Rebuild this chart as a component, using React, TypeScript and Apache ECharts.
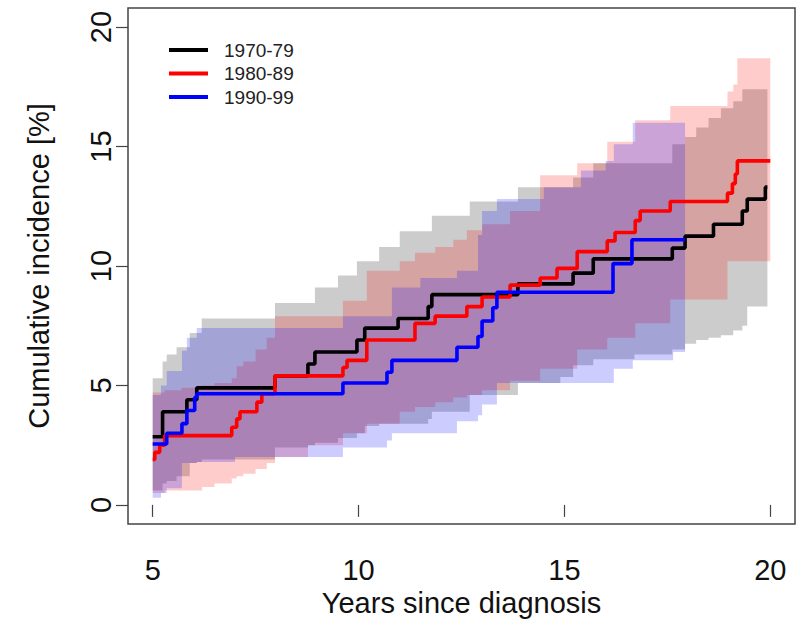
import React, { useEffect, useRef } from "react";
import * as echarts from "echarts";

// ---- Estimates (step functions) ----
const blackX = [5.0, 5.24, 5.83, 6.07, 7.97, 8.77, 8.94, 9.96, 10.15, 10.96, 11.69, 11.78, 13.87, 15.21, 15.7, 17.62, 17.93, 18.62, 19.32, 19.44, 19.88, 19.93];
const blackY = [2.85, 3.9, 4.4, 4.9, 5.4, 5.9, 6.4, 6.9, 7.4, 7.8, 8.3, 8.8, 9.25, 9.7, 10.3, 10.75, 11.25, 11.75, 12.3, 12.8, 13.3, 13.3];

const redX = [5.0, 5.05, 5.17, 5.29, 6.92, 7.04, 7.12, 7.53, 7.65, 7.97, 9.62, 9.72, 10.2, 11.37, 11.86, 12.63, 13.0, 13.68, 14.41, 14.82, 15.31, 16.04, 16.23, 16.72, 16.84, 17.57, 18.96, 19.08, 19.15, 19.2, 20.0];
const redY = [1.9, 2.2, 2.5, 2.9, 3.25, 3.6, 3.9, 4.3, 4.65, 5.4, 5.75, 6.05, 6.9, 7.6, 7.9, 8.3, 8.7, 9.2, 9.5, 9.9, 10.6, 11.05, 11.4, 11.9, 12.3, 12.7, 13.05, 13.45, 13.85, 14.4, 14.4];

const blueX = [5.0, 5.34, 5.71, 5.83, 6.02, 6.07, 9.62, 10.69, 10.81, 12.39, 12.9, 13.0, 13.26, 13.36, 16.18, 16.64, 17.93];
const blueY = [2.55, 3.0, 3.4, 3.95, 4.5, 4.65, 5.1, 5.55, 6.05, 6.6, 7.05, 7.7, 8.25, 8.9, 10.1, 11.1, 11.1];

// ---- Confidence bands (step functions) ----
const grayBandX = [5.0, 5.24, 5.34, 5.58, 5.9, 6.07, 6.19, 7.97, 8.77, 8.94, 9.5, 9.96, 10.15, 10.5, 11.0, 11.69, 11.78, 12.7, 13.87, 14.9, 15.21, 15.7, 16.7, 17.62, 17.93, 18.2, 18.5, 18.8, 19.1, 19.32, 19.44, 19.93];
const grayBandHi = [5.3, 6.0, 6.3, 6.6, 7.2, 7.2, 7.8, 8.45, 8.45, 9.1, 9.6, 10.2, 10.2, 10.8, 11.45, 11.45, 12.1, 12.7, 13.3, 13.3, 13.7, 14.3, 14.3, 15.1, 15.4, 15.8, 16.2, 16.6, 16.9, 17.4, 17.4, 17.4];
const grayBandLo = [0.6, 0.9, 1.0, 1.2, 1.75, 1.8, 1.9, 2.4, 2.5, 2.6, 2.8, 3.0, 3.3, 3.4, 3.4, 3.6, 3.9, 4.6, 5.1, 5.35, 5.85, 6.1, 6.3, 6.5, 6.75, 6.9, 7.0, 7.1, 7.3, 7.5, 8.3, 8.3];

const redBandX = [5.0, 5.29, 5.7, 6.2, 6.5, 6.92, 7.04, 7.2, 7.5, 7.77, 7.97, 8.77, 9.62, 10.2, 11.0, 11.37, 11.86, 12.3, 12.63, 13.0, 13.68, 14.41, 15.31, 16.04, 16.72, 17.57, 18.96, 19.1, 19.2, 20.0];
const redBandHi = [4.7, 4.8, 4.9, 5.0, 5.1, 5.3, 5.8, 6.0, 6.5, 7.0, 7.9, 7.9, 8.55, 9.8, 10.2, 10.55, 10.8, 11.1, 11.5, 11.75, 12.3, 13.8, 14.3, 15.2, 16.1, 16.7, 17.3, 17.6, 18.7, 18.7];
const redBandLo = [0.5, 0.6, 0.6, 0.75, 0.9, 1.1, 1.2, 1.3, 1.5, 1.75, 2.0, 2.5, 3.0, 3.4, 3.9, 4.1, 4.3, 4.5, 4.6, 4.8, 5.2, 5.7, 6.5, 7.0, 7.6, 8.6, 10.2, 10.2, 10.2, 10.2];

const blueBandX = [5.0, 5.2, 5.34, 5.71, 5.83, 6.07, 7.0, 7.8, 9.62, 10.69, 10.81, 11.5, 12.39, 12.9, 13.0, 13.36, 14.5, 15.4, 16.0, 16.2, 16.66, 17.64, 17.93];
const blueBandHi = [4.6, 5.0, 5.6, 6.45, 7.0, 7.4, 7.4, 7.4, 7.9, 7.9, 9.1, 9.5, 9.8, 11.3, 12.3, 12.8, 13.3, 14.0, 14.4, 15.1, 16.0, 16.0, 16.0];
const blueBandLo = [0.3, 0.5, 0.7, 1.75, 1.75, 1.8, 2.0, 2.0, 2.4, 2.7, 3.0, 3.0, 3.5, 3.75, 4.2, 5.1, 5.1, 5.1, 5.1, 5.7, 6.05, 6.4, 6.4];

const seriesNames = ["1970-79", "1980-89", "1990-99"];
const xTicks = [5, 10, 15, 20];
const yTicks = [0, 5, 10, 15, 20];

const FONT = "'Liberation Sans', Arial, sans-serif";

function bandSeries(name: string, xs: number[], lo: number[], hi: number[], fill: string) {
  return {
    type: "custom",
    name,
    silent: true,
    data: xs.map((x, i) => [x, lo[i], hi[i]]),
    encode: { x: 0, y: [1, 2] },
    renderItem: (params: any, api: any) => {
      if (params.dataIndexInside !== 0) return { type: "group", children: [] };
      const n = params.dataInsideLength;
      const top: number[][] = [];
      const bot: number[][] = [];
      for (let i = 0; i < n; i++) {
        const x = api.value(0, i);
        const l = api.value(1, i);
        const h = api.value(2, i);
        const nx = i < n - 1 ? api.value(0, i + 1) : x;
        top.push(api.coord([x, h]));
        top.push(api.coord([nx, h]));
        bot.push(api.coord([x, l]));
        bot.push(api.coord([nx, l]));
      }
      const points = top.concat(bot.reverse());
      return { type: "polygon", shape: { points }, style: { fill } };
    },
  };
}

function lineSeries(name: string, xs: number[], ys: number[], color: string) {
  return {
    type: "line",
    name,
    step: "end",
    showSymbol: false,
    symbol: "none",
    data: xs.map((x, i) => [x, ys[i]]),
    lineStyle: { color, width: 3.6 },
    itemStyle: { color },
    z: 5,
  };
}

export default function App() {
  const ref = useRef<HTMLDivElement>(null);
  useEffect(() => {
    if (!ref.current) return;
    const chart = echarts.init(ref.current, null, { renderer: "svg" });
    chart.setOption({
      animation: false,
      backgroundColor: "#ffffff",
      textStyle: { fontFamily: FONT },
      grid: { left: 128, right: 3, top: 8, bottom: 100, show: true, borderColor: "#444", borderWidth: 1.5, backgroundColor: "transparent" },
      legend: {
        data: seriesNames,
        orient: "vertical",
        left: 169,
        top: 40,
        padding: 0,
        icon: "rect",
        itemWidth: 39,
        itemHeight: 4,
        itemGap: 3.5,
        textStyle: { fontSize: 19, color: "#222", fontFamily: FONT, lineHeight: 20, padding: [0, 0, 0, 11] },
      },
      xAxis: {
        type: "value",
        min: 4.4,
        max: 20.6,
        name: "Years since diagnosis",
        nameLocation: "middle",
        nameGap: 63,
        nameTextStyle: { fontSize: 29, color: "#111", fontFamily: FONT },
        axisLine: { show: false },
        splitLine: { show: false },
        axisTick: { show: true, customValues: xTicks, length: 12, lineStyle: { color: "#444", width: 1.2 } },
        axisLabel: { customValues: xTicks, fontSize: 29, color: "#111", margin: 31, fontFamily: FONT },
      },
      yAxis: {
        type: "value",
        min: -0.8,
        max: 20.8,
        name: "Cumulative incidence [%]",
        nameLocation: "middle",
        nameGap: 75,
        nameRotate: 90,
        nameTextStyle: { fontSize: 29, color: "#111", fontFamily: FONT },
        axisLine: { show: false },
        splitLine: { show: false },
        axisTick: { show: true, customValues: yTicks, length: 12, lineStyle: { color: "#444", width: 1.2 } },
        axisLabel: { customValues: yTicks, fontSize: 29, color: "#111", margin: 13, rotate: 90, fontFamily: FONT },
      },
      series: [
        bandSeries("band-1970", grayBandX, grayBandLo, grayBandHi, "rgba(0,0,0,0.2)"),
        bandSeries("band-1980", redBandX, redBandLo, redBandHi, "rgba(255,0,0,0.2)"),
        bandSeries("band-1990", blueBandX, blueBandLo, blueBandHi, "rgba(0,0,255,0.2)"),
        lineSeries(seriesNames[0], blackX, blackY, "#000000"),
        lineSeries(seriesNames[1], redX, redY, "#ff0000"),
        lineSeries(seriesNames[2], blueX, blueY, "#0000ff"),
      ],
    });
    return () => chart.dispose();
  }, []);
  return <div ref={ref} style={{ width: 798, height: 624, position: "fixed", left: 0, top: 0 }} />;
}
